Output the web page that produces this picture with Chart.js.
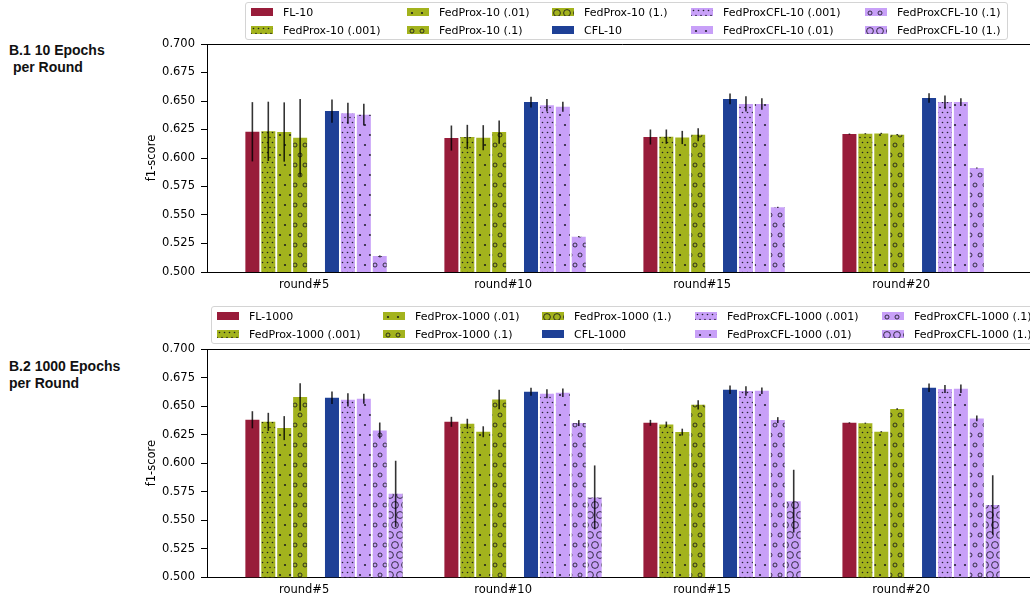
<!DOCTYPE html>
<html>
<head>
<meta charset="utf-8">
<script src="https://cdn.jsdelivr.net/npm/chart.js@4.4.1/dist/chart.umd.min.js"></script>
<style>
  html, body { margin: 0; padding: 0; background: #fff; overflow: hidden; width: 1030px; height: 602px; position: relative; }
  canvas.plot { position: absolute; left: 0; }
  .panel { position: absolute; left: 9px; font: bold 14px "Liberation Sans", Arial, sans-serif; color: #111; white-space: pre; line-height: 17px; }
  .legend { position: absolute; z-index: 2; border: 1px solid #d4d4d4; border-radius: 3px; background: rgba(255,255,255,0.85);
            padding: 0 6px 0 5px; display: grid; grid-auto-flow: column; grid-template-rows: 18px 18px;
            font: 11px "DejaVu Sans", sans-serif; color: #000; white-space: nowrap; }
  .legend .item { display: flex; align-items: center; }
  .legend canvas { width: 22px; height: 8px; margin-right: 10px; flex: none; }
</style>
</head>
<body>
<div class="panel" style="top:42px">B.1 10 Epochs
 per Round</div>
<div class="panel" style="top:358px">B.2 1000 Epochs
per Round</div>
<canvas id="b1" class="plot" width="1045" height="300" style="top:0"></canvas>
<canvas id="b2" class="plot" width="1045" height="302" style="top:300px"></canvas>
<div id="legend1" class="legend" style="left:245px; top:2px; grid-template-columns:156px 145px 139px 174px auto;"></div>
<div id="legend2" class="legend" style="left:211px; top:306px; grid-template-columns:166px 159px 153px 187px auto;"></div>

<script>
// ---- categories ----
const rounds = ['round#5', 'round#10', 'round#15', 'round#20'];

// ---- series names ----
const namesB1 = ['FL-10', 'FedProx-10 (.001)', 'FedProx-10 (.01)', 'FedProx-10 (.1)', 'FedProx-10 (1.)',
                 'CFL-10', 'FedProxCFL-10 (.001)', 'FedProxCFL-10 (.01)', 'FedProxCFL-10 (.1)', 'FedProxCFL-10 (1.)'];
const namesB2 = ['FL-1000', 'FedProx-1000 (.001)', 'FedProx-1000 (.01)', 'FedProx-1000 (.1)', 'FedProx-1000 (1.)',
                 'CFL-1000', 'FedProxCFL-1000 (.001)', 'FedProxCFL-1000 (.01)', 'FedProxCFL-1000 (.1)', 'FedProxCFL-1000 (1.)'];

// ---- B.1: 10 epochs per round, mean f1-score ----
const b1FL        = [0.623, 0.6175, 0.6184, 0.621];
const b1Prox001   = [0.6234, 0.6184, 0.6187, 0.6213];
const b1Prox01    = [0.6228, 0.6178, 0.618, 0.6216];
const b1Prox1     = [0.6178, 0.6228, 0.6205, 0.6205];
const b1Prox10    = [null, null, null, null];
const b1CFL       = [0.6412, 0.6491, 0.6518, 0.6526];
const b1PCFL001   = [0.6392, 0.6462, 0.6474, 0.6491];
const b1PCFL01    = [0.638, 0.645, 0.6474, 0.6491];
const b1PCFL1     = [0.514, 0.531, 0.5567, 0.5912];
const b1PCFL10    = [null, null, null, null];
// B.1 spread (half-length of error bars)
const b1FLErr      = [0.026, 0.011, 0.0066, 0.0005];
const b1Prox001Err = [0.026, 0.0107, 0.0063, 0.0005];
const b1Prox01Err  = [0.026, 0.011, 0.0058, 0.0005];
const b1Prox1Err   = [0.034, 0.0102, 0.0057, 0.0005];
const b1Prox10Err  = [null, null, null, null];
const b1CFLErr     = [0.0102, 0.0047, 0.0047, 0.0041];
const b1PCFL001Err = [0.0092, 0.0055, 0.0067, 0.0058];
const b1PCFL01Err  = [0.0095, 0.0044, 0.005, 0.0034];
const b1PCFL1Err   = [0.0005, 0.0005, 0.0005, 0.0005];
const b1PCFL10Err  = [null, null, null, null];

// ---- B.2: 1000 epochs per round, mean f1-score ----
const b2FL        = [0.638, 0.6362, 0.6353, 0.6353];
const b2Prox001   = [0.6362, 0.6345, 0.6339, 0.635];
const b2Prox01    = [0.6307, 0.6275, 0.6272, 0.6275];
const b2Prox1     = [0.6579, 0.6558, 0.6511, 0.6474];
const b2Prox10    = [null, null, null, null];
const b2CFL       = [0.6573, 0.6626, 0.6643, 0.666];
const b2PCFL001   = [0.6555, 0.6608, 0.6632, 0.6649];
const b2PCFL01    = [0.6564, 0.6617, 0.6634, 0.6652];
const b2PCFL1     = [0.6286, 0.6351, 0.6377, 0.6392];
const b2PCFL10    = [0.5731, 0.5700, 0.5667, 0.5634];
// B.2 spread
const b2FLErr      = [0.0075, 0.0044, 0.0026, 0.0005];
const b2Prox001Err = [0.0079, 0.0044, 0.0025, 0.0005];
const b2Prox01Err  = [0.0105, 0.0048, 0.003, 0.0005];
const b2Prox1Err   = [0.012, 0.0085, 0.0041, 0.0006];
const b2Prox10Err  = [null, null, null, null];
const b2CFLErr     = [0.0054, 0.0035, 0.0037, 0.0037];
const b2PCFL001Err = [0.0058, 0.004, 0.0041, 0.0035];
const b2PCFL01Err  = [0.0044, 0.0037, 0.0029, 0.0038];
const b2PCFL1Err   = [0.007, 0.0026, 0.0026, 0.0025];
const b2PCFL10Err  = [0.029, 0.028, 0.0275, 0.026];

// ---- y axis ----
const yMin = 0.5, yMax = 0.7, yStep = 0.025;

// ---- series styling ----
const CRIMSON = '#981c3a', OLIVE = '#a3b31d', NAVY = '#1e4096', LILAC = '#c8a0f8';
const seriesColor = [CRIMSON, OLIVE, OLIVE, OLIVE, OLIVE, NAVY, LILAC, LILAC, LILAC, LILAC];
const seriesHatch = ['none', 'dense', 'sparse', 'small', 'big', 'none', 'dense', 'sparse', 'small', 'big'];

const INK = 'rgba(20,20,30,0.9)';
const hatchSpec = {
  dense:  { d: 5,  r: 0.8, fill: true },
  sparse: { d: 10, r: 1.1, fill: true },
  small:  { d: 10, r: 2.0, fill: false },
  big:    { d: 10, r: 3.4, fill: false }
};

// Tile: staggered lattice (every other row shifted half a step)
function hatchTile(color, kind) {
  const spec = hatchSpec[kind];
  const w = spec ? spec.d : 4, h = spec ? spec.d * 2 : 4;
  const c = document.createElement('canvas');
  c.width = w; c.height = h;
  const g = c.getContext('2d');
  g.fillStyle = color;
  g.fillRect(0, 0, w, h);
  if (spec) {
    g.fillStyle = INK; g.strokeStyle = INK; g.lineWidth = 0.9;
    const pts = [[w / 2, h / 4], [0, h * 3 / 4]];
    pts.forEach(([px, py]) => {
      for (const dx of [-w, 0, w]) for (const dy of [-h, 0, h]) {
        g.beginPath();
        g.arc(px + dx, py + dy, spec.r, 0, Math.PI * 2);
        spec.fill ? g.fill() : g.stroke();
      }
    });
  }
  return c;
}
function fillFor(ctx, color, kind) {
  if (kind === 'none') return color;
  return ctx.createPattern(hatchTile(color, kind), 'repeat');
}

// ---- error bars drawn from each dataset's spread through the y scale ----
const errorBars = {
  id: 'errorBars',
  afterDatasetsDraw(chart) {
    const { ctx } = chart;
    const y = chart.scales.y;
    ctx.save();
    ctx.strokeStyle = 'rgba(0,0,0,0.8)';
    ctx.lineWidth = 1.6;
    chart.data.datasets.forEach((ds, k) => {
      const meta = chart.getDatasetMeta(k);
      meta.data.forEach((bar, i) => {
        const v = ds.data[i].y, e = ds.errors[i];
        if (v == null || e == null) return;
        ctx.beginPath();
        ctx.moveTo(bar.x, y.getPixelForValue(v + e));
        ctx.lineTo(bar.x, y.getPixelForValue(v - e));
        ctx.stroke();
      });
    });
    ctx.restore();
  }
};

// ---- top frame line ----
const topSpine = {
  id: 'topSpine',
  afterDraw(chart) {
    const { ctx, chartArea: a } = chart;
    ctx.save();
    ctx.strokeStyle = '#000';
    ctx.lineWidth = 1;
    ctx.beginPath();
    ctx.moveTo(a.left, Math.round(a.top) + 0.5);
    ctx.lineTo(a.right, Math.round(a.top) + 0.5);
    ctx.stroke();
    ctx.restore();
  }
};

Chart.defaults.font.family = '"DejaVu Sans", sans-serif';
Chart.defaults.font.size = 11;
Chart.defaults.color = '#000';

function makePanel(canvasId, legendId, names, values, errors, geom) {
  const canvas = document.getElementById(canvasId);
  const ctx = canvas.getContext('2d');
  const datasets = names.map((name, k) => ({
    label: name,
    data: values[k].map((v, i) => ({ x: i, y: v })),
    errors: errors[k],
    backgroundColor: fillFor(ctx, seriesColor[k], seriesHatch[k]),
    borderWidth: 0,
    categoryPercentage: 0.8,
    barPercentage: 0.88
  }));

  new Chart(ctx, {
    type: 'bar',
    data: { datasets },
    options: {
      responsive: false,
      animation: false,
      layout: { padding: { top: geom.top, right: 6.5, left: 0, bottom: 0 } },
      plugins: { legend: { display: false }, tooltip: { enabled: false } },
      scales: {
        x: {
          type: 'linear',
          min: -0.588, max: 3.59,
          bounds: 'data',
          offset: false,
          afterBuildTicks: s => { s.ticks = rounds.map((r, i) => ({ value: i - 0.1 })); },
          afterFit: s => { s.height = geom.xh; },
          ticks: { autoSkip: false, maxRotation: 0, padding: 6, font: { size: 11.5 }, callback: (v, i) => rounds[i] },
          grid: { display: true, drawOnChartArea: false, drawTicks: false, offset: false },
          border: { display: true, color: '#000', width: 1 }
        },
        y: {
          min: yMin, max: yMax,
          afterFit: s => { s.width = 207; },
          ticks: { stepSize: yStep, padding: 6, font: { size: 11.5 }, callback: v => v.toFixed(3) },
          grid: { drawOnChartArea: false, drawTicks: true, tickLength: 6, color: '#000' },
          border: { display: true, color: '#000', width: 1 },
          title: { display: true, text: 'f1-score', font: { size: 11.5 }, padding: { top: 145, bottom: 0 } }
        }
      }
    },
    plugins: [errorBars, topSpine]
  });

  // legend: two rows, filled column by column
  const box = document.getElementById(legendId);
  names.forEach((name, k) => {
    const item = document.createElement('div');
    item.className = 'item';
    const sw = document.createElement('canvas');
    sw.width = 22; sw.height = 8;
    const sctx = sw.getContext('2d');
    sctx.fillStyle = fillFor(sctx, seriesColor[k], seriesHatch[k]);
    sctx.fillRect(0, 0, 22, 8);
    const label = document.createElement('span');
    label.textContent = name;
    item.appendChild(sw);
    item.appendChild(label);
    box.appendChild(item);
  });
}

makePanel('b1', 'legend1', namesB1,
  [b1FL, b1Prox001, b1Prox01, b1Prox1, b1Prox10, b1CFL, b1PCFL001, b1PCFL01, b1PCFL1, b1PCFL10],
  [b1FLErr, b1Prox001Err, b1Prox01Err, b1Prox1Err, b1Prox10Err, b1CFLErr, b1PCFL001Err, b1PCFL01Err, b1PCFL1Err, b1PCFL10Err],
  { top: 44, xh: 28 });

makePanel('b2', 'legend2', namesB2,
  [b2FL, b2Prox001, b2Prox01, b2Prox1, b2Prox10, b2CFL, b2PCFL001, b2PCFL01, b2PCFL1, b2PCFL10],
  [b2FLErr, b2Prox001Err, b2Prox01Err, b2Prox1Err, b2Prox10Err, b2CFLErr, b2PCFL001Err, b2PCFL01Err, b2PCFL1Err, b2PCFL10Err],
  { top: 49, xh: 24.7 });
</script>
</body>
</html>
